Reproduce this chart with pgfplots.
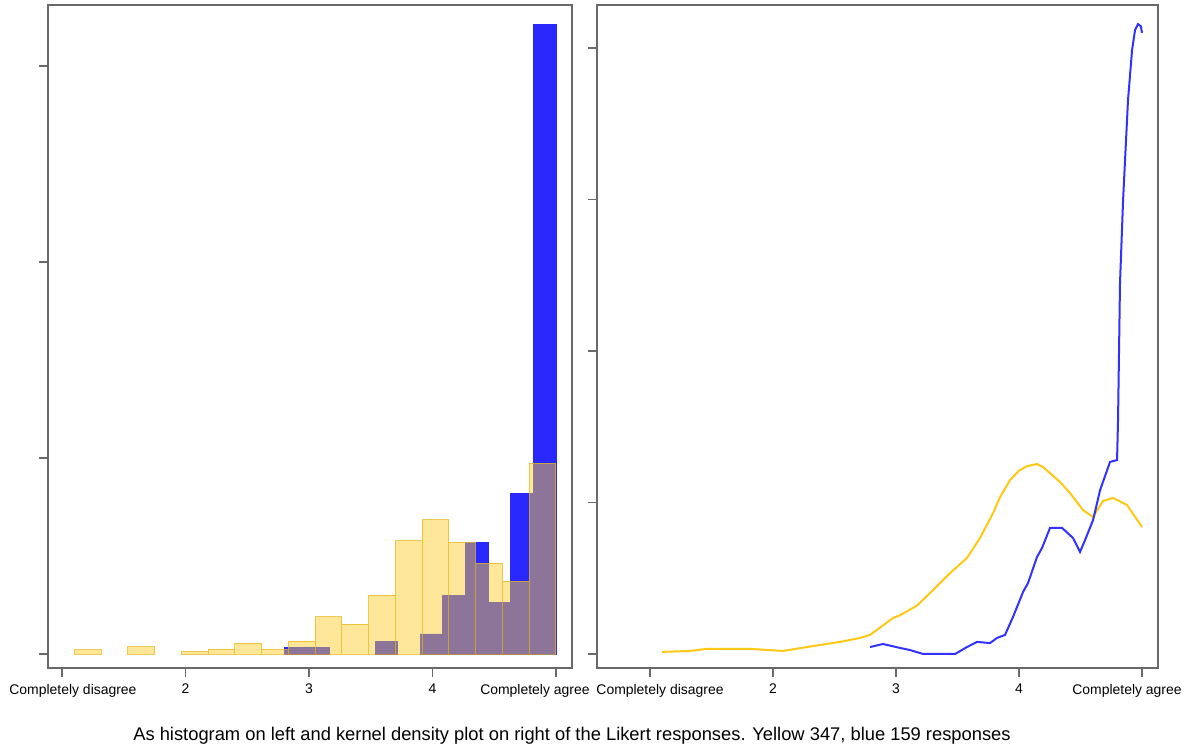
\documentclass[border=0pt]{standalone}
\usepackage{fontspec}
\setmainfont{Liberation Sans}
\usepackage{pgfplots}
\pgfplotsset{compat=1.18}
\definecolor{hblue}{RGB}{40,40,255}
\definecolor{hyel}{RGB}{255,205,40}
\definecolor{hyeledge}{RGB}{230,180,20}
\definecolor{kyel}{RGB}{255,200,20}
\definecolor{kblue}{RGB}{50,50,255}
\definecolor{framec}{RGB}{105,105,105}
\pgfplotsset{
  common/.style={
    scale only axis, height=331.5bp,
    axis line style={framec, line width=1bp},
    tick style={framec, line width=0.8bp},
    tick align=outside, xtick pos=bottom, ytick pos=left,
    major tick length=4.5bp,
    xtick={1,2,3,4,5},
    yticklabels={,,,,,},
    ticklabel style={font=\fontsize{7}{8}\selectfont},
    /pgf/number format/assume math mode=true,
    anchor=south west,
  },
  yelbar/.style={ybar interval, fill=hyel, fill opacity=0.47, draw=hyeledge, draw opacity=0.7, line width=0.5bp},
  bluebar/.style={ybar interval, fill=hblue, draw=hblue, line width=0.3bp},
}
\begin{document}
\begin{tikzpicture}
\path[use as bounding box] (0,0) rectangle (594.5bp,374.5bp);
% left: histograms
\begin{axis}[common, at={(24bp,40.5bp)}, width=262bp,
  xmin=0.887, xmax=5.13, ymin=-0.0714, ymax=3.311, ytick={0,1,2,3},
  xticklabels={\hspace*{11bp}Completely disagree,2,3,4,Completely agree\hspace*{21bp}}]
\addplot[bluebar] coordinates {(2.8,0.034) (2.98333,0.034) (3.16667,0.034)};
\addplot[bluebar] coordinates {(3.53333,0.066) (3.71667,0.066)};
\addplot[bluebar] coordinates {(3.9,0.103) (4.08333,0.30) (4.26667,0.571) (4.45,0.265) (4.63333,0.82) (4.81667,3.214) (5.0,3.214)};
\addplot[yelbar] coordinates {(1.1,0.022) (1.31667,0.022)};
\addplot[yelbar] coordinates {(1.53333,0.038) (1.75,0.038)};
\addplot[yelbar] coordinates {(1.96667,0.012) (2.18333,0.025) (2.4,0.056) (2.61667,0.022) (2.83333,0.066) (3.05,0.189) (3.26667,0.153) (3.48333,0.301) (3.7,0.577) (3.91667,0.684) (4.13333,0.571) (4.35,0.464) (4.56667,0.372) (4.78333,0.974) (5.0,0.974)};
\end{axis}
% right: kernel densities
\begin{axis}[common, at={(298.5bp,40.5bp)}, width=280.5bp,
  xmin=0.569, xmax=5.13, ymin=-0.0462, ymax=2.142, ytick={0,0.5,1,1.5,2},
  xticklabels={\hspace*{10bp}Completely disagree,2,3,4,Completely agree\hspace*{15bp}}]
\addplot[kyel, line width=1bp, mark=none] coordinates {
(1.098,0.007) (1.325,0.010) (1.463,0.017) (1.813,0.017) (2.081,0.010) (2.276,0.023)
(2.545,0.040) (2.707,0.053) (2.789,0.063) (2.976,0.119) (3.033,0.128) (3.171,0.160)
(3.301,0.211) (3.439,0.267) (3.577,0.317) (3.683,0.383) (3.789,0.465) (3.846,0.518)
(3.927,0.574) (4.000,0.605) (4.065,0.620) (4.146,0.627) (4.195,0.617) (4.333,0.568) (4.415,0.531)
(4.520,0.475) (4.602,0.452) (4.683,0.505) (4.764,0.515) (4.878,0.492) (5.0,0.419)};
\addplot[kblue, line width=1bp, mark=none] coordinates {
(2.789,0.023) (2.894,0.033) (3.033,0.020) (3.114,0.013) (3.220,0.0) (3.480,0.0)
(3.577,0.023) (3.659,0.040) (3.764,0.036) (3.821,0.053) (3.886,0.063) (3.951,0.122)
(4.033,0.205) (4.073,0.234) (4.146,0.320) (4.187,0.350) (4.252,0.416) (4.350,0.416)
(4.439,0.383) (4.496,0.337) (4.537,0.376) (4.602,0.442) (4.659,0.541) (4.740,0.634)
(4.797,0.640) (4.805,0.772) (4.821,1.224) (4.846,1.498) (4.886,1.828) (4.919,1.993)
(4.943,2.059) (4.967,2.079) (4.990,2.072) (5.0,2.050)};
\end{axis}
\node[font=\fontsize{9.2}{10}\selectfont] at (286bp,6.5bp) {As histogram on left and kernel density plot on right of the Likert responses. Yellow 347, blue 159 responses};
\end{tikzpicture}
\end{document}
